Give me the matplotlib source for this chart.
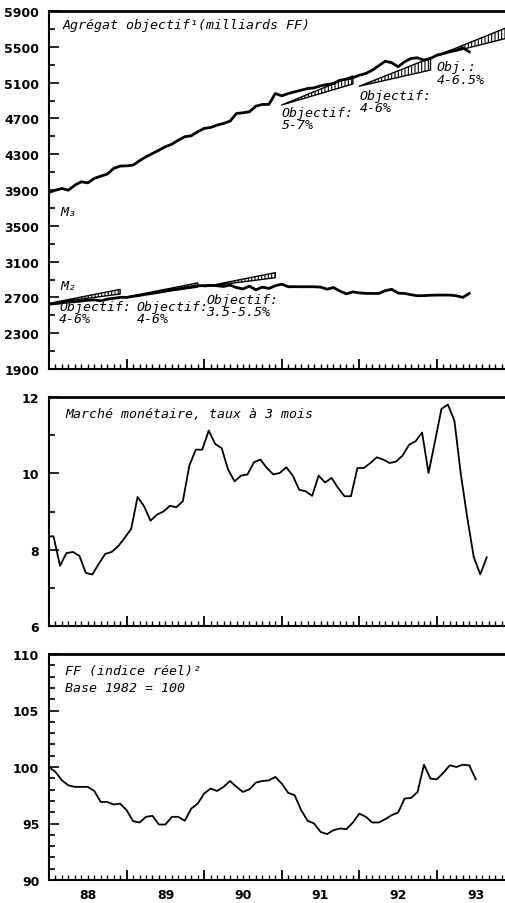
import numpy as np
import matplotlib.pyplot as plt

# Monthly data, first value = January 1988
m3 = [3873, 3898, 3917, 3898, 3954, 3992, 3980, 4029, 4055, 4077, 4141, 4167,
      4170, 4178, 4227, 4271, 4308, 4345, 4383, 4412, 4457, 4495, 4506, 4551,
      4588, 4599, 4625, 4644, 4669, 4755, 4763, 4774, 4837, 4856, 4856, 4978,
      4952, 4978, 4997, 5015, 5034, 5041, 5064, 5079, 5090, 5127, 5138, 5154,
      5183, 5202, 5239, 5288, 5339, 5322, 5277, 5333, 5370, 5377, 5351, 5370,
      5407, 5425, 5451, 5462, 5489, 5444]
m2 = [2625, 2630, 2640, 2648, 2652, 2660, 2668, 2672, 2662, 2680, 2690, 2700,
      2700, 2712, 2722, 2735, 2745, 2758, 2770, 2785, 2795, 2808, 2818, 2830,
      2832, 2835, 2830, 2822, 2838, 2810, 2795, 2825, 2785, 2815, 2800, 2830,
      2848, 2819, 2820, 2819, 2819, 2819, 2815, 2792, 2810, 2770, 2740, 2762,
      2750, 2745, 2744, 2744, 2775, 2790, 2748, 2744, 2730, 2718, 2720, 2724,
      2726, 2726, 2726, 2718, 2700, 2744]

# 3-month money market rate, first value = December 1987
taux_3m = [8.35, 8.35, 7.58, 7.91, 7.94, 7.84, 7.39, 7.35, 7.63, 7.89, 7.94, 8.09,
           8.31, 8.54, 9.38, 9.14, 8.76, 8.92, 9.0, 9.15, 9.11, 9.27, 10.2, 10.62,
           10.62, 11.12, 10.77, 10.66, 10.1, 9.79, 9.94, 9.97, 10.29, 10.36, 10.14, 9.97,
           10.01, 10.16, 9.94, 9.57, 9.53, 9.41, 9.94, 9.76, 9.88, 9.62, 9.4, 9.4,
           10.14, 10.14, 10.27, 10.42, 10.36, 10.27, 10.31, 10.47, 10.75, 10.84, 11.07, 10.01,
           10.84, 11.69, 11.8, 11.38, 9.97, 8.83, 7.8, 7.35, 7.8]

# Real effective franc index (1982 = 100), first value = January 1988
ff_reel = [100.0, 99.56, 98.82, 98.38, 98.24, 98.24, 98.24, 97.88, 96.91, 96.91, 96.68, 96.76,
           96.18, 95.21, 95.09, 95.59, 95.68, 94.91, 94.91, 95.59, 95.59, 95.24, 96.32, 96.76,
           97.65, 98.09, 97.88, 98.24, 98.76, 98.24, 97.79, 98.03, 98.62, 98.76, 98.82, 99.12,
           98.53, 97.71, 97.5, 96.18, 95.24, 95.0, 94.26, 94.06, 94.41, 94.56, 94.5, 95.09,
           95.88, 95.59, 95.09, 95.09, 95.38, 95.74, 95.97, 97.21, 97.26, 97.79, 100.2, 98.97,
           98.91, 99.5, 100.15, 100.0, 100.2, 100.15, 98.91]

# Target cones: first/last month index, base value, low and high end values
m3_cone_months = [(36, 47), (48, 59), (60, 71)]
m3_cone_base = [4850, 5060, 5400]
m3_cone_low = [5085, 5240, 5600]
m3_cone_high = [5175, 5375, 5720]
m3_cone_labels = ['Objectif:\n5-7%', 'Objectif:\n4-6%', 'Obj.:\n4-6.5%']

m2_cone_months = [(0, 11), (12, 23), (24, 35)]
m2_cone_base = [2633, 2705, 2819]
m2_cone_low = [2738, 2815, 2920]
m2_cone_high = [2790, 2862, 2976]
m2_cone_labels = ['Objectif:\n4-6%', 'Objectif:\n4-6%', 'Objectif:\n3.5-5.5%']

year_labels = ['88', '89', '90', '91', '92', '93']

X_END = 1993.89
MONO = 'DejaVu Sans Mono'

plt.rcParams['hatch.linewidth'] = 0.8
plt.rcParams['font.family'] = 'DejaVu Sans'


def months_to_x(n, offset=0.0):
    return 1988 + (np.arange(n) + offset) / 12.0


def style_axis(ax, show_xlabels):
    ax.set_xlim(1988, X_END)
    ax.spines['right'].set_visible(False)
    ax.spines['left'].set_linewidth(1.5)
    ax.spines['bottom'].set_linewidth(1.5)
    ax.spines['top'].set_linewidth(2.0)
    # monthly ticks (year starts are drawn as longer minor ticks)
    ks = [k for k in range(71) if k % 12]
    ax.set_xticks([1988 + k / 12.0 for k in ks])
    if show_xlabels:
        ax.set_xticklabels([year_labels[k // 12] if k % 12 == 6 else '' for k in ks])
    else:
        ax.set_xticklabels([])
    ax.set_xticks(np.arange(1989, 1994), minor=True)
    ax.tick_params(axis='x', which='major', direction='in', length=3.5, width=1.0, pad=6)
    ax.tick_params(axis='x', which='minor', direction='in', length=7, width=1.3)
    ax.tick_params(axis='y', which='major', direction='in', length=7, width=1.2, pad=7)
    ax.tick_params(axis='y', which='minor', direction='in', length=4, width=1.2)
    for lab in ax.get_xticklabels() + ax.get_yticklabels():
        lab.set_fontsize(9)
        lab.set_fontweight('bold')


fig = plt.figure(figsize=(5.06, 9.04), dpi=100)
left = 49 / 506
width = 1 - left
ax1 = fig.add_axes([left, 1 - 370 / 904, width, 358 / 904])
ax2 = fig.add_axes([left, 1 - 627 / 904, width, 229 / 904])
ax3 = fig.add_axes([left, 1 - 881 / 904, width, 226 / 904])

# --- Panel 1: monetary aggregates and targets
for (m0, m1), b, lo, hi in zip(m3_cone_months + m2_cone_months,
                               m3_cone_base + m2_cone_base,
                               m3_cone_low + m2_cone_low,
                               m3_cone_high + m2_cone_high):
    xs = [1988 + m0 / 12.0, 1988 + m1 / 12.0]
    ax1.fill_between(xs, [b, lo], [b, hi], facecolor='white', edgecolor='black',
                     hatch='|||||', linewidth=1.0, zorder=2)

ax1.plot(months_to_x(len(m3)), m3, color='black', lw=2.0, zorder=3)
ax1.plot(months_to_x(len(m2)), m2, color='black', lw=2.0, zorder=3)

for (m0, m1), lab, y in zip(m3_cone_months, m3_cone_labels, [4844, 5034, 5347]):
    ax1.text(1988 + m0 / 12.0, y, lab, family=MONO, style='italic', fontsize=9.5,
             va='top', ha='left', linespacing=0.95)
for (m0, m1), lab, x, y in zip(m2_cone_months, m2_cone_labels,
                               [1988.13, 1989.13, 1990.03], [2670, 2670, 2745]):
    ax1.text(x, y, lab, family=MONO, style='italic', fontsize=9.5,
             va='top', ha='left', linespacing=0.85)

ax1.text(0.03, 0.98, 'Agrégat objectif¹(milliards FF)', transform=ax1.transAxes,
         family=MONO, style='italic', fontsize=9.5, va='top')
ax1.text(1988.15, 3660, 'M₃', family=MONO, style='italic', fontsize=9.5, va='center')
ax1.text(1988.15, 2834, 'M₂', family=MONO, style='italic', fontsize=9.5, va='center')

ax1.set_ylim(1900, 5900)
ax1.set_yticks(np.arange(1900, 5901, 400))
ax1.set_yticks(np.arange(1900, 5901, 200), minor=True)
style_axis(ax1, False)

# --- Panel 2: money market rate
ax2.plot(months_to_x(len(taux_3m), -0.3), taux_3m, color='black', lw=1.3)
ax2.text(0.035, 0.955, 'Marché monétaire, taux à 3 mois', transform=ax2.transAxes,
         family=MONO, style='italic', fontsize=9.5, va='top')
ax2.set_ylim(6, 12)
ax2.set_yticks([6, 8, 10, 12])
ax2.set_yticks(np.arange(6, 13, 1), minor=True)
style_axis(ax2, False)

# --- Panel 3: real franc index
ax3.plot(months_to_x(len(ff_reel)), ff_reel, color='black', lw=1.3)
ax3.text(0.035, 0.955, 'FF (indice réel)²\nBase 1982 = 100', transform=ax3.transAxes,
         family=MONO, style='italic', fontsize=9.5, va='top', linespacing=1.35)
ax3.set_ylim(90, 110)
ax3.set_yticks(np.arange(90, 111, 5))
ax3.set_yticks(np.arange(90, 111, 1), minor=True)
style_axis(ax3, True)

fig.savefig('out.png', dpi=100)
